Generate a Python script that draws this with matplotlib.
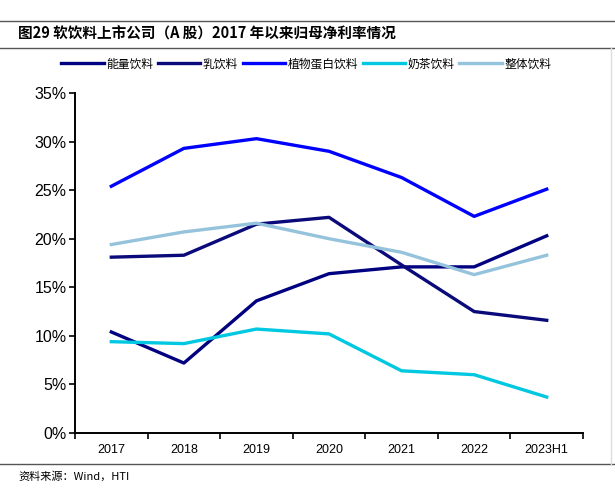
import numpy as np
import matplotlib.pyplot as plt
from matplotlib.lines import Line2D

plt.rcParams['font.family'] = ['Noto Sans CJK SC', 'DejaVu Sans']

years = ['2017', '2018', '2019', '2020', '2021', '2022', '2023H1']
energy = [10.4, 7.2, 13.6, 16.4, 17.1, 17.1, 20.3]
dairy = [18.1, 18.3, 21.5, 22.2, 17.3, 12.5, 11.6]
plant = [25.4, 29.3, 30.3, 29.0, 26.3, 22.3, 25.1]
milktea = [9.4, 9.2, 10.7, 10.2, 6.4, 6.0, 3.7]
overall = [19.4, 20.7, 21.6, 20.0, 18.6, 16.3, 18.3]

fig = plt.figure(figsize=(6.15, 4.99), dpi=100)
ax = fig.add_axes([0.122, 0.1323, 0.826, 0.6813])

x = np.arange(len(years))
lw = 2.4
ax.plot(x, energy, color='#000080', lw=lw, label='能量饮料')
ax.plot(x, dairy, color='#0a0a7a', lw=lw, label='乳饮料')
ax.plot(x, plant, color='#0000ff', lw=lw, label='植物蛋白饮料')
ax.plot(x, milktea, color='#00c8e0', lw=lw, label='奶茶饮料')
ax.plot(x, overall, color='#96c3dc', lw=lw, label='整体饮料')

ax.set_ylim(0, 35)
ax.set_xlim(-0.5, len(years) - 0.5)
ax.set_yticks(np.arange(0, 36, 5))
ax.set_yticklabels([f'{v}%' for v in range(0, 36, 5)], fontsize=11.5, family=['Liberation Sans'])
ax.set_xticks(x)
ax.set_xticklabels(years, fontsize=9, family=['Liberation Sans'])
ax.tick_params(axis='x', length=0, pad=8)
ax.set_xticks(np.arange(-0.5, len(years), 1), minor=True)
ax.tick_params(axis='x', which='minor', length=4, width=1.2, direction='out')
ax.tick_params(axis='y', length=4, width=1.2, direction='out', pad=2)
for s in ['top', 'right']:
    ax.spines[s].set_visible(False)
for s in ['left', 'bottom']:
    ax.spines[s].set_linewidth(1.4)

ax.legend(loc='center', bbox_to_anchor=(0.5 - 0.045, 1.085), ncol=5, frameon=False,
          fontsize=8.5, handlelength=3.6, handletextpad=0.2, columnspacing=0.4)

# frame lines
fig.add_artist(Line2D([0.0, 1.0], [1 - 21 / 499, 1 - 21 / 499], color='#555555', lw=1))
fig.add_artist(Line2D([0.0, 1.0], [1 - 48 / 499, 1 - 48 / 499], color='#555555', lw=1))
fig.add_artist(Line2D([0.0, 1.0], [1 - 464 / 499, 1 - 464 / 499], color='#555555', lw=1))
fig.add_artist(Line2D([611 / 615, 611 / 615], [1 - 48 / 499, 1 - 464 / 499], color='#dddddd', lw=1))

fig.text(18 / 615, 1 - 34 / 499, '图29 软饮料上市公司（A 股）2017 年以来归母净利率情况',
         fontsize=10.5, fontweight='bold', va='center')
fig.text(18 / 615, 1 - 476 / 499, '资料来源：Wind，HTI', fontsize=8, va='center')

fig.savefig('out.png', dpi=100)
